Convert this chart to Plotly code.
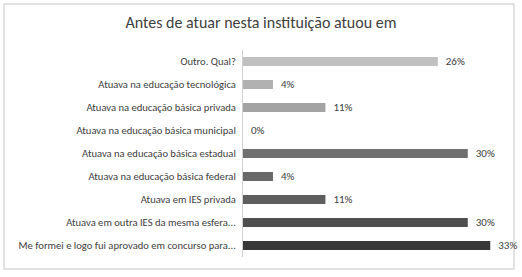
import plotly.graph_objects as go

categories = [
    "Me formei e logo fui aprovado em concurso para...",
    "Atuava em outra IES da mesma esfera...",
    "Atuava em IES privada",
    "Atuava na educação básica federal",
    "Atuava na educação básica estadual",
    "Atuava na educação básica municipal",
    "Atuava na educação básica privada",
    "Atuava na educação tecnológica",
    "Outro. Qual?",
]
values = [33, 30, 11, 4, 30, 0, 11, 4, 26]
value_labels = ["33%", "30%", "11%", "4%", "30%", "0%", "11%", "4%", "26%"]
bar_colors = ["#383838", "#4f4f4f", "#5e5e5e", "#686868", "#707070",
              "#8a8a8a", "#a3a3a3", "#b1b1b1", "#c0c0c0"]

FONT = "Carlito, Lato, sans-serif"

fig = go.Figure(go.Bar(
    x=values, y=categories, orientation="h",
    marker=dict(color=bar_colors, line=dict(width=0)),
    width=0.39,
    text=["  " + t for t in value_labels], textposition="outside",
    textfont=dict(size=11, color="#404040", family=FONT),
    outsidetextfont=dict(size=11, color="#404040", family=FONT),
    constraintext="none",
    cliponaxis=False,
    hoverinfo="skip",
))

fig.update_layout(
    width=522, height=277,
    margin=dict(l=243, r=22, t=50, b=20, autoexpand=False),
    paper_bgcolor="white", plot_bgcolor="white",
    title=dict(text="Antes de atuar nesta instituição atuou em", x=0.5, xanchor="center",
               y=1 - 22/277, yref="container", yanchor="middle",
               font=dict(size=16, color="#404040", family=FONT)),
    xaxis=dict(range=[0, 34.3], showgrid=False, showticklabels=False, zeroline=False,
               showline=False, ticks="", automargin=False),
    yaxis=dict(showgrid=False, ticks="", showline=True, linecolor="#d0d0d0", linewidth=1,
               tickfont=dict(size=10.6, color="#404040", family=FONT), automargin=False,
               categoryorder="array", categoryarray=categories, ticklabelstandoff=4),
    shapes=[dict(type="rect", xref="paper", yref="paper",
                 x0=-239/257, x1=1 + 14/257, y0=-12/207, y1=1 + 46/207,
                 line=dict(color="#d9d9d9", width=1.5), fillcolor="rgba(0,0,0,0)", layer="below")],
    showlegend=False,
)

fig.write_html("out.html", config={"displayModeBar": False},
               post_script="document.body.style.margin='0px';")
